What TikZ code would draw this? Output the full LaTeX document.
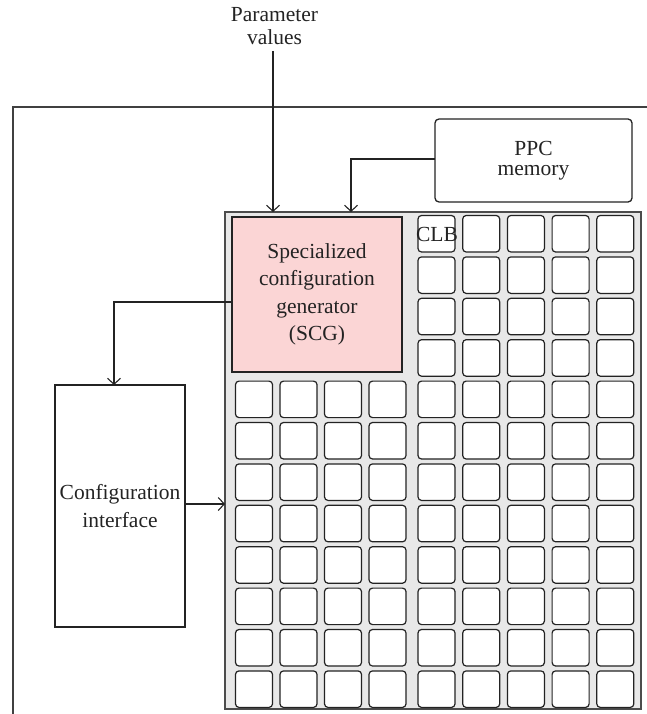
\documentclass[tikz,border=0pt]{standalone}
\usepackage{fontspec}
\setmainfont{Liberation Serif}
\usetikzlibrary{arrows.meta}
\definecolor{scgpink}{RGB}{251,213,213}
\definecolor{fabgray}{RGB}{232,232,232}
\definecolor{edge}{RGB}{35,35,35}
\begin{document}
\begin{tikzpicture}[x=1pt,y=-1pt,
  arr/.style={line width=1.1pt, draw=edge, -{Straight Barb[length=6pt,width=13pt,line width=1.1pt]}},
  lbl/.style={font=\fontsize{21.5}{27.5}\selectfont, text=edge, align=center, inner sep=0pt},
  cell/.style={draw=edge, fill=white, line width=1.2pt, rounded corners=3.5pt, minimum width=37pt, minimum height=36.5pt, inner sep=0pt, outer sep=0pt, anchor=north west},
  blk/.style={draw=edge, line width=1.3pt, inner sep=0pt, outer sep=0pt, align=center, font=\fontsize{21.5}{27.5}\selectfont, text=edge}]
\useasboundingbox (0,0) rectangle (647,714);
% outer frame
\draw[line width=1.5pt, draw=black!75] (660,107) -- (13,107) -- (13,730);
% fabric
\node[draw=black!70, fill=fabgray, line width=1.5pt, minimum width=416pt, minimum height=497pt, inner sep=0pt, outer sep=0pt] (fabric) at (433,460.5) {};
% right group of CLBs: 5 columns x 12 rows
\foreach \i in {0,...,11}{
  \foreach \j in {0,...,4}{
    \node[cell] (R-\i-\j) at ({418+\j*44.7},{215.5+\i*41.4}) {};
  }
}
% left group of CLBs: 4 columns x 8 rows
\foreach \i in {4,...,11}{
  \foreach \j in {0,...,3}{
    \node[cell] (L-\i-\j) at ({235.5+\j*44.5},{215.5+\i*41.4}) {};
  }
}
\node[lbl] (clb) at ([xshift=0.5pt,yshift=-1pt]R-0-0.center) {CLB};
% SCG
\node[blk, fill=scgpink, minimum width=170pt, minimum height=155pt] (scg) at (317,294.5)
  {Specialized\\configuration\\generator\\(SCG)};
% PPC memory
\node[blk, rounded corners=4pt, minimum width=197pt, minimum height=83pt, font=\fontsize{21.5}{20.5}\selectfont] (ppc) at (533.5,160.5) {PPC\\memory};
% configuration interface
\node[blk, minimum width=130pt, minimum height=242pt] (cfg) at (120,506) {Configuration\\interface};
% parameter values
\node[lbl, font=\fontsize{21.5}{23}\selectfont] (param) at (274.5,26) {Parameter\\values};
% connectors
\coordinate (ptip) at (273,212);
\coordinate (mtip) at (351,212);
\coordinate (scgout) at (232,302);
\coordinate (cfgin) at (114,385);
\draw[arr] (ptip |- param.south) ++(0,6) -- (ptip);
\draw[arr] (ppc.west |- 0,159) -| (mtip);
\draw[arr] (scgout) -| (cfgin);
\draw[arr] (cfg.east |- 0,504) -- (fabric.west |- 0,504);
\end{tikzpicture}
\end{document}
